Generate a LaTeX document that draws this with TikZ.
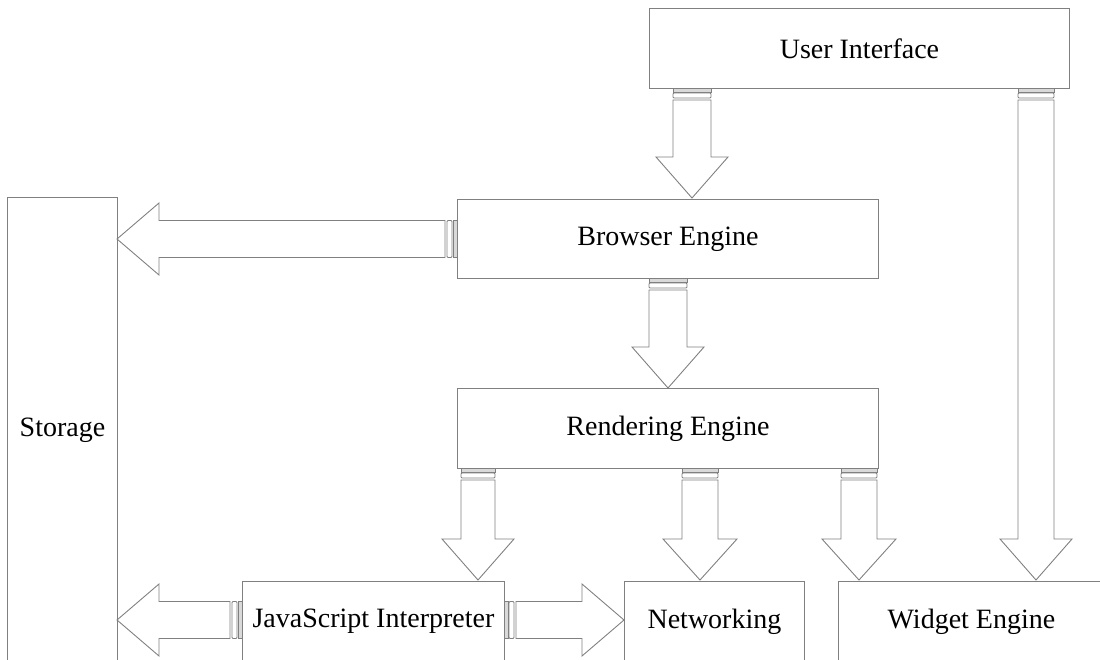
\documentclass[tikz,border=0pt]{standalone}
\usepackage{fontspec}
\setmainfont{Liberation Serif}
\begin{document}
\begin{tikzpicture}[x=1pt,y=-1pt,
  line/.style={draw=black!50,line width=0.9pt},
  box/.style={line,fill=white,anchor=north west,inner sep=0pt,
    font=\fontsize{28}{32}\selectfont},
  stubfill/.style={fill=black!15,draw=black!50,line width=0.5pt}]
\path[use as bounding box] (0,0) rectangle (1100,660);
\clip (0,0) rectangle (1100,660);
\newcommand\darrow[6]{% x, box edge y, tip y, half shaft, half head, head length
  \draw[stubfill] (#1-#4,#2) rectangle (#1+#4,#2+4);
  \draw[line,rounded corners=1pt] (#1-#4,#2+5) rectangle (#1+#4,#2+10);
  \draw[line,fill=white] (#1-#4,#2+12) -- (#1-#4,#3-#6) -- (#1-#5,#3-#6) -- (#1,#3)
    -- (#1+#5,#3-#6) -- (#1+#4,#3-#6) -- (#1+#4,#2+12) -- cycle;}
\newcommand\harrow[7]{% y, box edge x, tip x, half shaft, half head, head length, direction (+1 right, -1 left)
  \draw[stubfill] (#2,#1-#4) rectangle (#2+#7*4,#1+#4);
  \draw[line,rounded corners=1pt] (#2+#7*5,#1-#4) rectangle (#2+#7*10,#1+#4);
  \draw[line,fill=white] (#2+#7*12,#1-#4) -- (#3-#7*#6,#1-#4) -- (#3-#7*#6,#1-#5) -- (#3,#1)
    -- (#3-#7*#6,#1+#5) -- (#3-#7*#6,#1+#4) -- (#2+#7*12,#1+#4) -- cycle;}
% boxes
\node[box,minimum width=420pt,minimum height=80pt] (ui) at (649,8) {User Interface};
\node[box,minimum width=421pt,minimum height=79pt] (be) at (457,199) {Browser Engine};
\node[box,minimum width=421pt,minimum height=80pt] (re) at (457,388) {Rendering Engine};
\node[box,minimum width=110pt,minimum height=466pt] (st) at (7,197) {Storage};
\node[box,minimum width=262pt,minimum height=80pt] (js) at (242,581) {JavaScript Interpreter};
\node[box,minimum width=180pt,minimum height=80pt] (net) at (624,581) {Networking};
\node[box,minimum width=266pt,minimum height=80pt] (we) at (838,581) {Widget Engine};
% vertical arrows
\darrow{692}{88}{198}{19}{36}{41}
\darrow{1036}{88}{580}{18}{36}{41}
\darrow{668}{278}{388}{19}{36}{41}
\darrow{478}{468}{580}{17}{36}{41}
\darrow{700}{468}{580}{18}{37}{41}
\darrow{859}{468}{580}{18}{37}{41}
% horizontal arrows
\harrow{239}{457}{117}{18.5}{36}{42}{-1}
\harrow{620}{242}{117}{18.5}{36}{42}{-1}
\harrow{620}{504}{624}{18.5}{36}{42}{1}
\end{tikzpicture}
\end{document}
